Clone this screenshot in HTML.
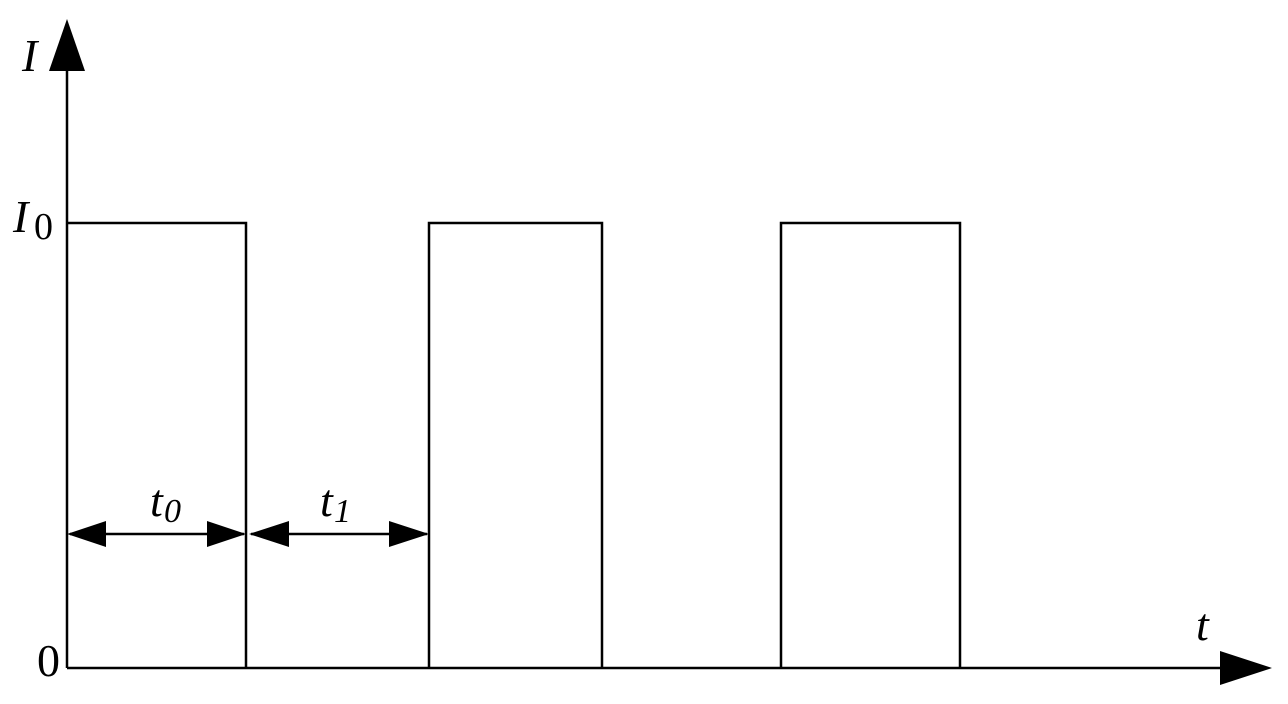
<!DOCTYPE html>
<html><head><style>body{margin:0;background:#fff}svg{display:block}</style></head>
<body>
<svg width="1288" height="704" viewBox="0 0 1288 704" xmlns="http://www.w3.org/2000/svg">
<g stroke="#000" stroke-width="2.5" fill="none">
<line x1="67" y1="70" x2="67" y2="668"/>
<line x1="67" y1="668" x2="1222" y2="668"/>
<polyline points="67,223 246,223 246,668"/>
<polyline points="429,668 429,223 602,223 602,668"/>
<polyline points="781,668 781,223 960,223 960,668"/>
<line x1="70" y1="534" x2="244" y2="534"/>
<line x1="251" y1="534" x2="427" y2="534"/>
</g>
<g fill="#000">
<polygon points="67,19 49,71 85,71"/>
<polygon points="1272,668 1220,651 1220,685"/>
<polygon points="67,534 106,521 106,547"/>
<polygon points="246,534 207,521 207,547"/>
<polygon points="249,534 289,521 289,547"/>
<polygon points="429,534 389,521 389,547"/>
</g>
<g font-family="Liberation Serif, serif" font-size="46" fill="#000">
<text x="22" y="71" font-style="italic">I</text>
<text x="13" y="232" font-style="italic">I</text>
<text x="34" y="239" font-size="38">0</text>
<text x="37" y="676">0</text>
<text x="150" y="516" font-style="italic">t</text>
<text x="164" y="522" font-size="34" font-style="italic">0</text>
<text x="320" y="516" font-style="italic">t</text>
<text x="334" y="522" font-size="34" font-style="italic">1</text>
<text x="1196" y="640" font-style="italic">t</text>
</g>
</svg>
</body></html>
